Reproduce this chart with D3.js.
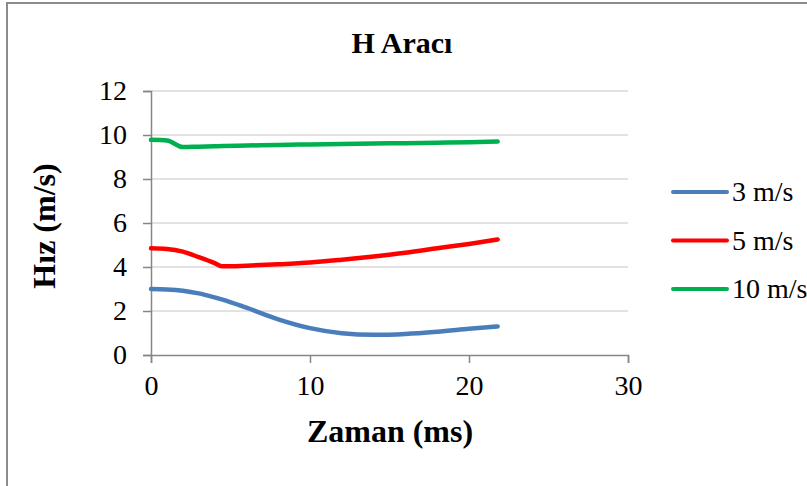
<!DOCTYPE html>
<html>
<head>
<meta charset="utf-8">
<script src="https://cdn.jsdelivr.net/npm/d3@7"></script>
<style>
  body { margin: 0; background: #fff; }
  svg text { font-family: 'Liberation Serif', 'Times New Roman', serif; fill: #000; }
</style>
</head>
<body>
<div id="chart"></div>
<script>
const title = 'H Aracı'
const xTitle = 'Zaman (ms)'
const yTitle = 'Hız (m/s)'

const times = [0, 1, 2, 3, 4, 4.5, 6, 8, 10, 12, 14, 16, 18, 20, 21.8]
const v3 = [3.00, 2.98, 2.92, 2.80, 2.62, 2.52, 2.15, 1.62, 1.22, 0.99, 0.92, 0.96, 1.06, 1.19, 1.30]
const v5 = [4.85, 4.82, 4.70, 4.45, 4.18, 4.03, 4.06, 4.12, 4.20, 4.33, 4.48, 4.65, 4.85, 5.05, 5.25]
const v10 = [9.78, 9.75, 9.45, 9.47, 9.49, 9.50, 9.52, 9.55, 9.57, 9.59, 9.61, 9.63, 9.65, 9.67, 9.70]

const seriesNames = ['3 m/s', '5 m/s', '10 m/s']
const seriesColors = ['#4a7ebb', '#ff0000', '#00b050']
const seriesValues = [v3, v5, v10]

const xTicks = [0, 10, 20, 30]
const yTicks = [0, 2, 4, 6, 8, 10, 12]

const width = 807, height = 486
const plot = { left: 151, right: 628, top: 91, bottom: 355 }

const svg = d3.select('#chart').append('svg')
    .attr('width', width)
    .attr('height', height)

// outer frame
svg.append('rect')
    .attr('x', 7).attr('y', 3)
    .attr('width', width + 10).attr('height', height + 10)
    .attr('fill', 'none')
    .attr('stroke', '#8c8c8c')
    .attr('stroke-width', 2)

const x = d3.scaleLinear().domain([0, 30]).range([plot.left, plot.right])
const y = d3.scaleLinear().domain([0, 12]).range([plot.bottom, plot.top])

// gridlines
svg.append('g').selectAll('line')
  .data(yTicks.filter(d => d > 0))
  .enter().append('line')
    .attr('x1', plot.left).attr('x2', plot.right)
    .attr('y1', d => y(d)).attr('y2', d => y(d))
    .attr('stroke', '#d9d9d9')
    .attr('stroke-width', 1.5)

const yAxis = svg.append('g')
    .attr('transform', `translate(${plot.left},0)`)
    .call(d3.axisLeft(y).tickValues(yTicks).tickSize(8).tickPadding(16))
const xAxis = svg.append('g')
    .attr('transform', `translate(0,${plot.bottom})`)
    .call(d3.axisBottom(x).tickValues(xTicks).tickSize(8).tickPadding(12))

;[xAxis, yAxis].forEach(a => {
  a.attr('font-family', null).attr('font-size', null)
  a.select('.domain').attr('stroke', '#868686').attr('stroke-width', 1.5)
  a.selectAll('.tick line').attr('stroke', '#868686').attr('stroke-width', 1.5)
  a.selectAll('.tick text').style('font-size', '28px').attr('fill', '#000')
})

const line = d3.line()
    .x(d => x(d[0]))
    .y(d => y(d[1]))
    .curve(d3.curveMonotoneX)

seriesValues.forEach((vals, i) => {
  svg.append('path')
      .datum(times.map((t, j) => [t, vals[j]]))
      .attr('d', line)
      .attr('fill', 'none')
      .attr('stroke', seriesColors[i])
      .attr('stroke-width', 4.5)
      .attr('stroke-linecap', 'round')
      .attr('stroke-linejoin', 'round')
})

// titles
svg.append('text')
    .attr('x', 402).attr('y', 53)
    .attr('text-anchor', 'middle')
    .style('font-size', '30px').style('font-weight', 'bold')
    .text(title)

svg.append('text')
    .attr('x', 390).attr('y', 442)
    .attr('text-anchor', 'middle')
    .style('font-size', '32px').style('font-weight', 'bold')
    .text(xTitle)

svg.append('text')
    .attr('transform', 'translate(55,226) rotate(-90)')
    .attr('text-anchor', 'middle')
    .style('font-size', '32px').style('font-weight', 'bold')
    .text(yTitle)

// legend
const legend = svg.append('g').selectAll('g')
  .data(seriesNames)
  .enter().append('g')
    .attr('transform', (d, i) => `translate(673,${192 + i * 48.5})`)

legend.append('line')
    .attr('x1', 0).attr('x2', 54)
    .attr('stroke', (d, i) => seriesColors[i])
    .attr('stroke-width', 4)
    .attr('stroke-linecap', 'round')

legend.append('text')
    .attr('x', 59).attr('y', 9)
    .style('font-size', '28px')
    .text(d => d)
</script>
</body>
</html>
